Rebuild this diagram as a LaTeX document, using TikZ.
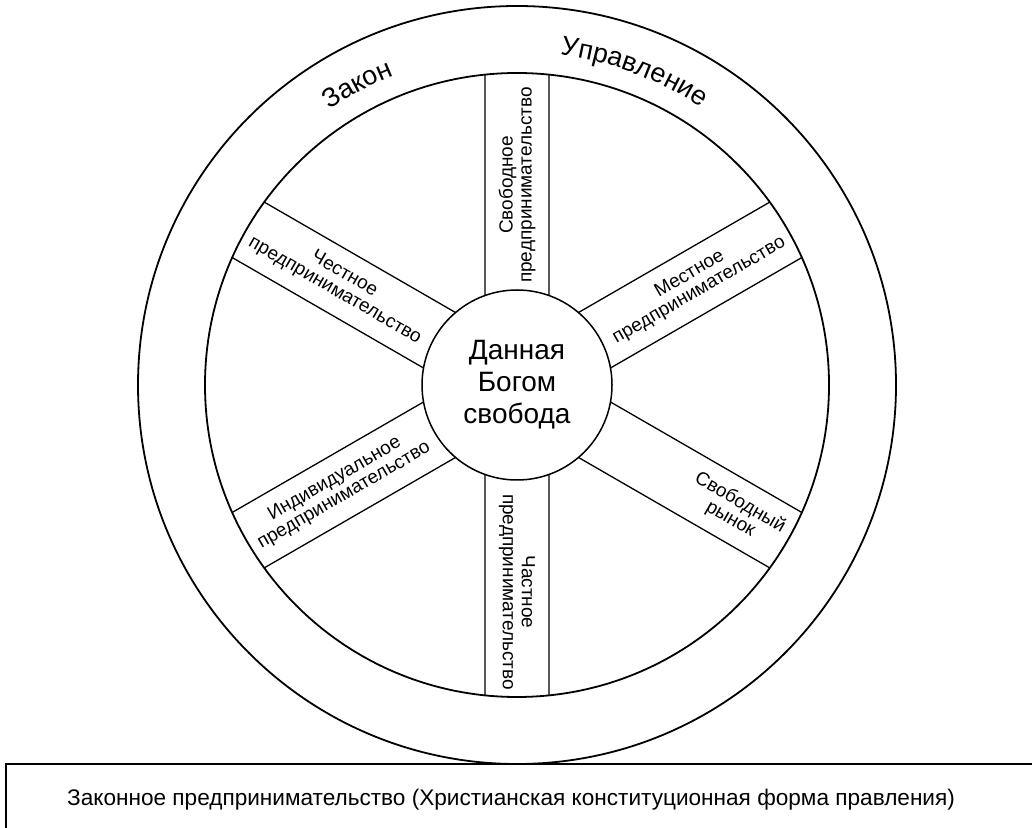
\documentclass[tikz,border=0pt]{standalone}
\usepackage{fontspec}
\setmainfont{Liberation Sans}
\usetikzlibrary{calc,decorations.text}
\tikzstyle{rim} = [draw, line width=1.8pt]
\tikzstyle{spoke} = [draw, line width=1.3pt]
\tikzstyle{hub} = [circle, draw, fill=white, line width=1.5pt, minimum size=190pt,
    inner sep=0pt, align=center, font=\fontsize{28}{32}\selectfont]
\tikzstyle{spoketext} = [align=center, inner sep=0pt, font=\fontsize{19}{19}\selectfont]
\tikzstyle{rimtext} = [decorate, decoration={text along path, text align=center}]
\begin{document}
\begin{tikzpicture}[x=1pt, y=1pt]
\useasboundingbox (0,0) rectangle (1032,827);
\clip (0,0) rectangle (1032,827);
\coordinate (C) at (517,442);
\draw[rim] (C) circle (379);
\draw[rim] (C) circle (312);
\foreach \a in {90,30,-30,-90,-150,150}
  \draw[spoke, shift={(C)}] (\a+19.7:95) -- (\a+5.89:312)
                            (\a-19.7:95) -- (\a-5.89:312);
\node[hub] (hub) at (C) {Данная\\Богом\\свобода};

\node[spoketext, rotate=90] (free) at ($(C)+(90:200)$) {Свободное\\предпринимательство};
\node[spoketext, rotate=-90] (private) at ($(C)+(-90:207)$) {Частное\\предпринимательство};
\node[spoketext, rotate=-30] (honest) at ($(C)+(150:205)$) {Честное\\предпринимательство};
\node[spoketext, rotate=30] (local) at ($(C)+(30:205)$) {Местное\\предпринимательство};
\node[spoketext, rotate=-30] (market) at ($(C)+(-30:252)$) {Свободный\\рынок};
\node[spoketext, rotate=30] (indiv) at ($(C)+(210:205)$) {Индивидуальное\\предпринимательство};

\path[rimtext, decoration={text={|\fontsize{27}{30}\selectfont|Закон}}]
  ($(C)+(140:333)$) arc[start angle=140, end angle=96, radius=333];
\path[rimtext, decoration={text={|\fontsize{27}{30}\selectfont|Управление}}]
  ($(C)+(92:333)$) arc[start angle=92, end angle=47, radius=333];

\node[draw, line width=1.5pt, anchor=north west, minimum width=1100pt,
  minimum height=120pt] (lawbox) at (5,64) {};
\node[font=\fontsize{22.6}{26}\selectfont] (lawtext) at (511,27)
  {Законное предпринимательство (Христианская конституционная форма правления)};
\end{tikzpicture}
\end{document}
